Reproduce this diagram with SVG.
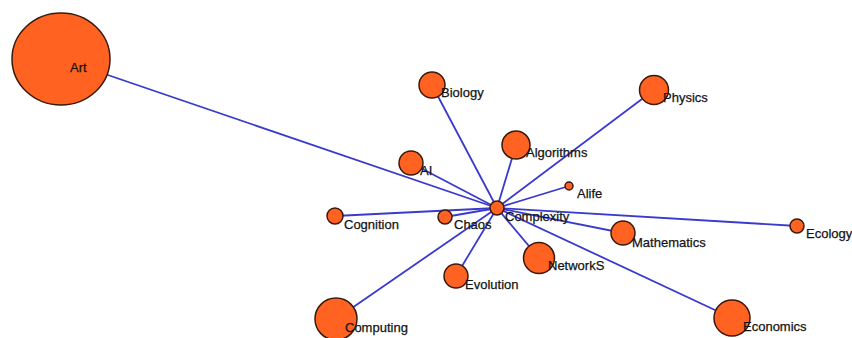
<svg xmlns="http://www.w3.org/2000/svg" width="852" height="338" viewBox="0 0 852 338">
<style>
.n{fill:#ff6221;stroke:#3a1a0c;stroke-width:1.5}
.e{stroke:#3a3acc;stroke-width:1.8;fill:none}
text{font-family:"Liberation Sans",Arial,sans-serif;font-size:13px;fill:#141414;stroke:#141414;stroke-width:0.25}
</style>
<rect width="852" height="338" fill="#fff"/>
<g id="connectors">
<line class="e" x1="61" y1="59" x2="497" y2="208"/>
<line class="e" x1="432" y1="85" x2="497" y2="208"/>
<line class="e" x1="654" y1="90" x2="497" y2="208"/>
<line class="e" x1="516" y1="145" x2="497" y2="208"/>
<line class="e" x1="411" y1="163" x2="497" y2="208"/>
<line class="e" x1="569" y1="186" x2="497" y2="208"/>
<line class="e" x1="335" y1="216" x2="497" y2="208"/>
<line class="e" x1="445" y1="217" x2="497" y2="208"/>
<line class="e" x1="623" y1="233" x2="497" y2="208"/>
<line class="e" x1="797" y1="226" x2="497" y2="208"/>
<line class="e" x1="456" y1="276" x2="497" y2="208"/>
<line class="e" x1="539" y1="258" x2="497" y2="208"/>
<line class="e" x1="336" y1="319" x2="497" y2="208"/>
<line class="e" x1="732" y1="318" x2="497" y2="208"/>
</g>
<g id="node-art"><ellipse class="n" cx="61" cy="59" rx="49" ry="46"/><text x="70" y="72">Art</text></g>
<g id="node-biology"><circle class="n" cx="432" cy="85" r="13"/><text x="441" y="97">Biology</text></g>
<g id="node-physics"><circle class="n" cx="654" cy="90" r="14.5"/><text x="663" y="102">Physics</text></g>
<g id="node-algorithms"><circle class="n" cx="516" cy="145" r="14"/><text x="526" y="157">Algorithms</text></g>
<g id="node-ai"><circle class="n" cx="411" cy="163" r="12"/><text x="420" y="175">AI</text></g>
<g id="node-alife"><circle class="n" cx="569" cy="186" r="4"/><text x="577" y="198">Alife</text></g>
<g id="node-cognition"><circle class="n" cx="335" cy="216" r="8"/><text x="344" y="229">Cognition</text></g>
<g id="node-chaos"><circle class="n" cx="445" cy="217" r="7"/><text x="454" y="229">Chaos</text></g>
<g id="node-complexity"><circle class="n" cx="497" cy="208" r="7"/><text x="505" y="221">Complexity</text></g>
<g id="node-mathematics"><circle class="n" cx="623" cy="233" r="12"/><text x="632" y="247">Mathematics</text></g>
<g id="node-ecology"><circle class="n" cx="797" cy="226" r="7"/><text x="806" y="238">Ecology</text></g>
<g id="node-evolution"><circle class="n" cx="456" cy="276" r="12"/><text x="465" y="289">Evolution</text></g>
<g id="node-networks"><circle class="n" cx="539" cy="258" r="15.5"/><text x="548" y="270">NetworkS</text></g>
<g id="node-computing"><circle class="n" cx="336" cy="319" r="21"/><text x="345" y="332">Computing</text></g>
<g id="node-economics"><circle class="n" cx="732" cy="318" r="18"/><text x="743" y="331">Economics</text></g>
</svg>
